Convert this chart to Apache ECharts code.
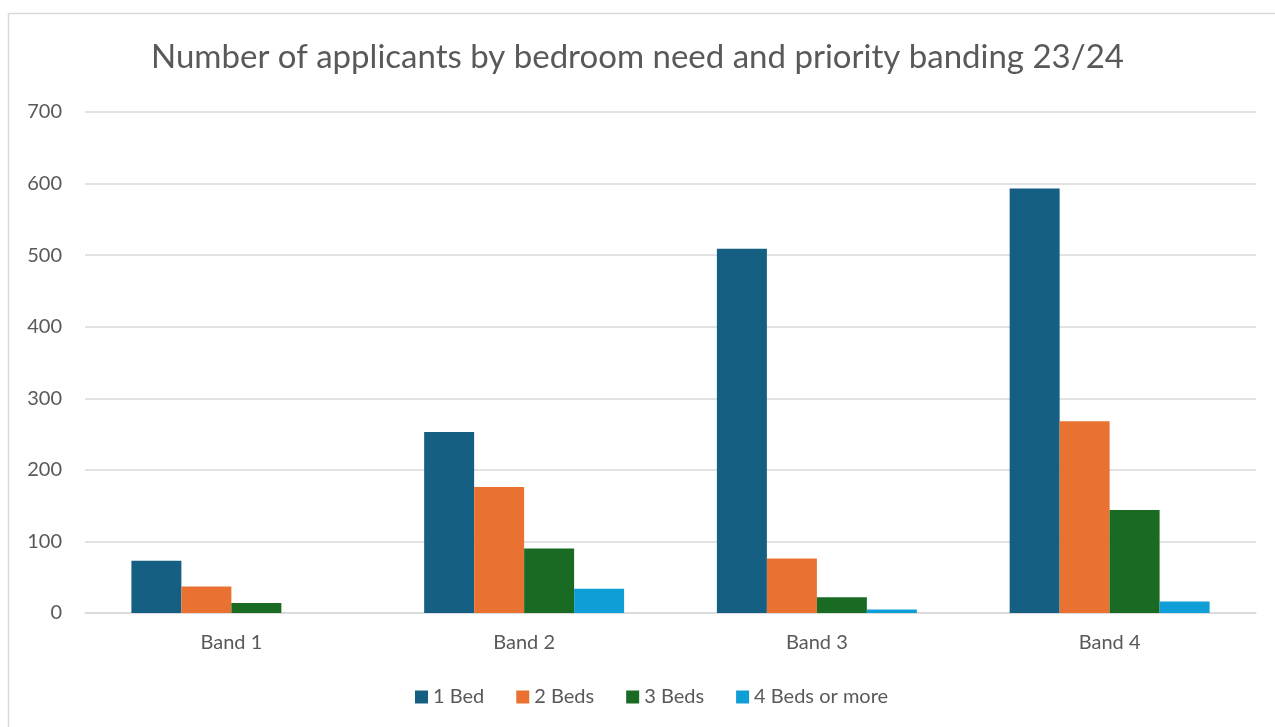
<!DOCTYPE html>
<html>
<head>
<meta charset="utf-8">
<script src="https://cdn.jsdelivr.net/npm/echarts@6/dist/echarts.min.js"></script>
<style>
  html, body { margin: 0; padding: 0; background: #fff; }
  #chart { width: 1275px; height: 727px; }
</style>
</head>
<body>
<div id="chart"></div>
<script>
// Priority bands on the x axis
const bands = ['Band 1', 'Band 2', 'Band 3', 'Band 4'];

// Applicants per bedroom need, one value per band
const oneBed = [73, 253, 509, 593];
const twoBeds = [37, 176, 76, 268];
const threeBeds = [14, 90, 22, 144];
const fourPlusBeds = [0, 34, 5, 16];

const seriesNames = ['1 Bed', '2 Beds', '3 Beds', '4 Beds or more'];
const seriesColors = ['#156082', '#E97132', '#196B24', '#0F9ED5'];
const seriesData = [oneBed, twoBeds, threeBeds, fourPlusBeds];

const textColor = '#595959';
const fontFamily = 'Lato, "Open Sans", sans-serif';

const chart = echarts.init(document.getElementById('chart'), null, { renderer: 'canvas' });

chart.setOption({
  animation: false,
  backgroundColor: '#ffffff',
  title: {
    text: 'Number of applicants by bedroom need and priority banding 23/24',
    left: 'center',
    top: 36,
    textStyle: { color: textColor, fontFamily, fontWeight: 'normal', fontSize: 33 }
  },
  graphic: [{
    type: 'rect',
    shape: { x: 8.5, y: 13.5, width: 1300, height: 800 },
    style: { fill: 'none', stroke: '#d9d9d9', lineWidth: 1.5 },
    silent: true
  }],
  legend: {
    bottom: 15,
    left: 410,
    itemWidth: 13,
    itemHeight: 13,
    itemGap: 32,
    icon: 'rect',
    textStyle: { color: textColor, fontFamily, fontSize: 20 },
    data: seriesNames
  },
  grid: { left: 85, right: 19, top: 112, bottom: 114 },
  xAxis: {
    type: 'category',
    data: bands,
    axisLine: { lineStyle: { color: '#d9d9d9', width: 1.5 } },
    axisTick: { show: false },
    axisLabel: { color: textColor, fontFamily, fontSize: 20, margin: 20 }
  },
  yAxis: {
    type: 'value',
    min: 0,
    max: 700,
    interval: 100,
    axisLine: { show: false },
    axisTick: { show: false },
    splitLine: { lineStyle: { color: '#d9d9d9', width: 1.5 } },
    axisLabel: { color: textColor, fontFamily, fontSize: 20, margin: 23 }
  },
  series: seriesData.map((data, i) => ({
    name: seriesNames[i],
    type: 'bar',
    data,
    barGap: '0%',
    barCategoryGap: '31.7%',
    itemStyle: { color: seriesColors[i] }
  }))
});
</script>
</body>
</html>
